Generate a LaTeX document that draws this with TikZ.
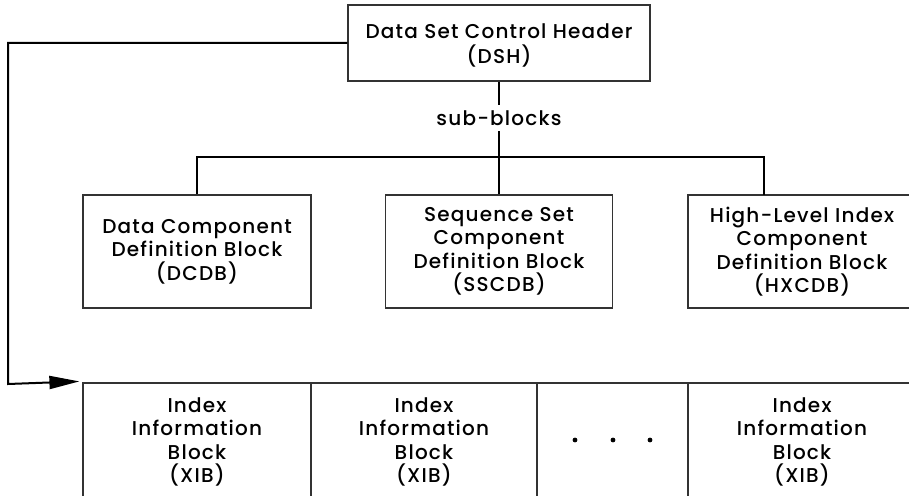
\documentclass[tikz,border=0pt]{standalone}
\usepackage{fontspec}
\setmainfont{Poppins}[UprightFont=* Medium, LetterSpace=6]
\usetikzlibrary{arrows.meta}
\newcommand{\blkfont}{\fontsize{20}{23.5}\selectfont}
\begin{document}
\begin{tikzpicture}[x=1pt, y=-1pt,
  blk/.style={draw=black!80, line width=1.2pt, rectangle, inner sep=0pt,
    align=center, font=\blkfont, text=black},
  link/.style={line width=2pt, draw=black},
  lbl/.style={font=\blkfont, fill=white, inner sep=6pt}]
  \clip (0,0) rectangle (909,495);

  % header block
  \node[blk, minimum width=302pt, minimum height=76pt] (dsh) at (499,43)
    {\rule{0pt}{20pt}Data Set Control Header\\[1.5pt](DSH)};

  % component definition blocks
  \node[blk, minimum width=228pt, minimum height=113pt] (dcdb) at (197,251.5)
    {Data Component\\Definition Block\\(DCDB)};
  \node[blk, minimum width=227pt, minimum height=113pt] (sscdb) at (499,251.5)
    {Sequence Set\\Component\\Definition Block\\(SSCDB)};
  \node[blk, minimum width=228pt, minimum height=113pt] (hxcdb) at (802,251.5)
    {High-Level Index\\Component\\Definition Block\\(HXCDB)};

  % index information blocks
  \node[blk, minimum width=228pt, minimum height=118pt] (xib1) at (197,442)
    {Index\\Information\\Block\\(XIB)};
  \node[blk, minimum width=226pt, minimum height=118pt] (xib2) at (424,442)
    {Index\\Information\\Block\\(XIB)};
  \node[blk, minimum width=151pt, minimum height=118pt] (more) at (612.5,442) {};
  \node[blk, minimum width=228pt, minimum height=118pt] (xibn) at (802,442)
    {Index\\Information\\Block\\(XIB)};
  \foreach \dx in {575,613,650} \fill (\dx,440) circle (2.4pt);

  % sub-block tree
  \coordinate (hub) at (499,157);
  \coordinate (hxtop) at (764,195);
  \draw[link] (dsh.south) -- (hub);
  \node[lbl] (sub) at (499,118) {sub-blocks};
  \draw[link] (dcdb.north) |- (hub) -| (hxtop);
  \draw[link] (hub) -- (sscdb.north);

  % pointer to the index information blocks
  \coordinate (corner) at (8,384);
  \draw[link, -{Triangle[length=30pt, width=13pt]}]
    (dsh.west) -| (corner) -- ([xshift=-3pt, yshift=1pt]xib1.north west);
\end{tikzpicture}
\end{document}
